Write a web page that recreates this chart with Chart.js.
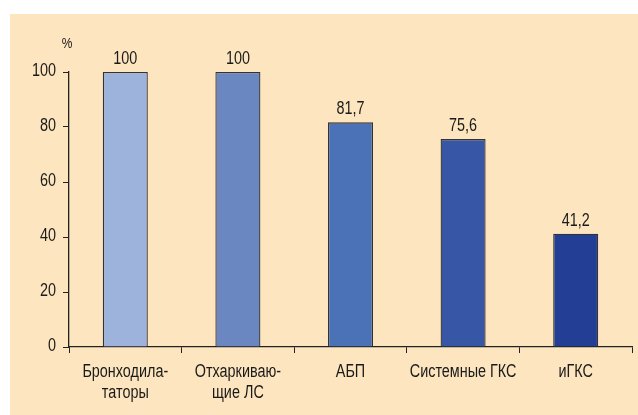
<!DOCTYPE html>
<html>
<head>
<meta charset="utf-8">
<script src="https://cdn.jsdelivr.net/npm/chart.js@4/dist/chart.umd.min.js"></script>
<style>
  html, body { margin: 0; padding: 0; background: #fff; }
  #wrap { width: 638px; height: 415px; position: relative; }
</style>
</head>
<body>
<div id="wrap"><canvas id="chart" width="638" height="415"></canvas></div>
<script>
const categories = [
  ["Бронходила-", "таторы"],
  ["Отхаркиваю-", "щие ЛС"],
  "АБП",
  "Системные ГКС",
  "иГКС"
];
const values = [100, 100, 81.7, 75.6, 41.2];
const valueLabels = ["100", "100", "81,7", "75,6", "41,2"];
const yTicks = [0, 20, 40, 60, 80, 100];
const barColors = ["#9db3dc", "#6b87c1", "#4b72b6", "#3757a6", "#223f95"];

const FONT = "'Liberation Sans', Arial, sans-serif";
const NARROW = 0.8; // horizontal squeeze to mimic a narrow typeface

// draw text squeezed horizontally around x
function narrowText(ctx, text, x, y) {
  ctx.save();
  ctx.translate(x, y);
  ctx.scale(NARROW, 1);
  ctx.fillText(text, 0, 0);
  ctx.restore();
}

const backgroundPanel = {
  id: "backgroundPanel",
  beforeDraw(chart) {
    const ctx = chart.ctx;
    ctx.save();
    ctx.fillStyle = "#fde6bf";
    ctx.fillRect(10, 14, chart.width - 10, chart.height - 14);
    ctx.restore();
  }
};

const narrowLabels = {
  id: "narrowLabels",
  afterDraw(chart) {
    const ctx = chart.ctx;
    const x = chart.scales.x;
    const y = chart.scales.y;
    const meta = chart.getDatasetMeta(0);
    ctx.save();
    ctx.fillStyle = "#1a1a1a";
    ctx.font = "18px " + FONT;

    // y tick labels
    ctx.textAlign = "right";
    ctx.textBaseline = "middle";
    yTicks.forEach(v => narrowText(ctx, String(v), y.right - 13, y.getPixelForValue(v) - 1));

    // category labels
    ctx.textAlign = "center";
    ctx.textBaseline = "middle";
    categories.forEach((lab, i) => {
      const lines = Array.isArray(lab) ? lab : [lab];
      const cx = x.getPixelForValue(i);
      lines.forEach((ln, k) => narrowText(ctx, ln, cx, x.top + 25 + k * 21));
    });

    // value labels above bars
    ctx.textBaseline = "alphabetic";
    meta.data.forEach((bar, i) => narrowText(ctx, valueLabels[i], bar.x, bar.y - 8));

    // unit label above the y axis
    ctx.font = "15px " + FONT;
    narrowText(ctx, "%", y.right - 2, 48);
    ctx.restore();
  }
};

new Chart(document.getElementById("chart"), {
  type: "bar",
  data: {
    labels: categories,
    datasets: [{
      data: values,
      backgroundColor: barColors,
      borderColor: "#333333",
      borderWidth: 1.3,
      categoryPercentage: 0.8,
      barPercentage: 0.5
    }]
  },
  options: {
    responsive: false,
    animation: false,
    layout: { padding: { top: 72, right: 6, left: 0, bottom: 0 } },
    plugins: {
      legend: { display: false },
      tooltip: { enabled: false }
    },
    scales: {
      x: {
        afterFit(scale) { scale.height = 68; },
        grid: {
          offset: true,
          drawOnChartArea: false,
          drawTicks: true,
          tickLength: 6,
          color: "#222"
        },
        border: { color: "#222", width: 1.3 },
        ticks: { display: false, autoSkip: false }
      },
      y: {
        min: 0,
        max: 100,
        afterFit(scale) { scale.width = 69; },
        afterBuildTicks(scale) { scale.ticks = yTicks.map(v => ({ value: v })); },
        grid: {
          drawOnChartArea: false,
          drawTicks: true,
          tickLength: 6,
          color: "#222"
        },
        border: { color: "#222", width: 1.3 },
        ticks: { display: false }
      }
    }
  },
  plugins: [backgroundPanel, narrowLabels]
});
</script>
</body>
</html>
